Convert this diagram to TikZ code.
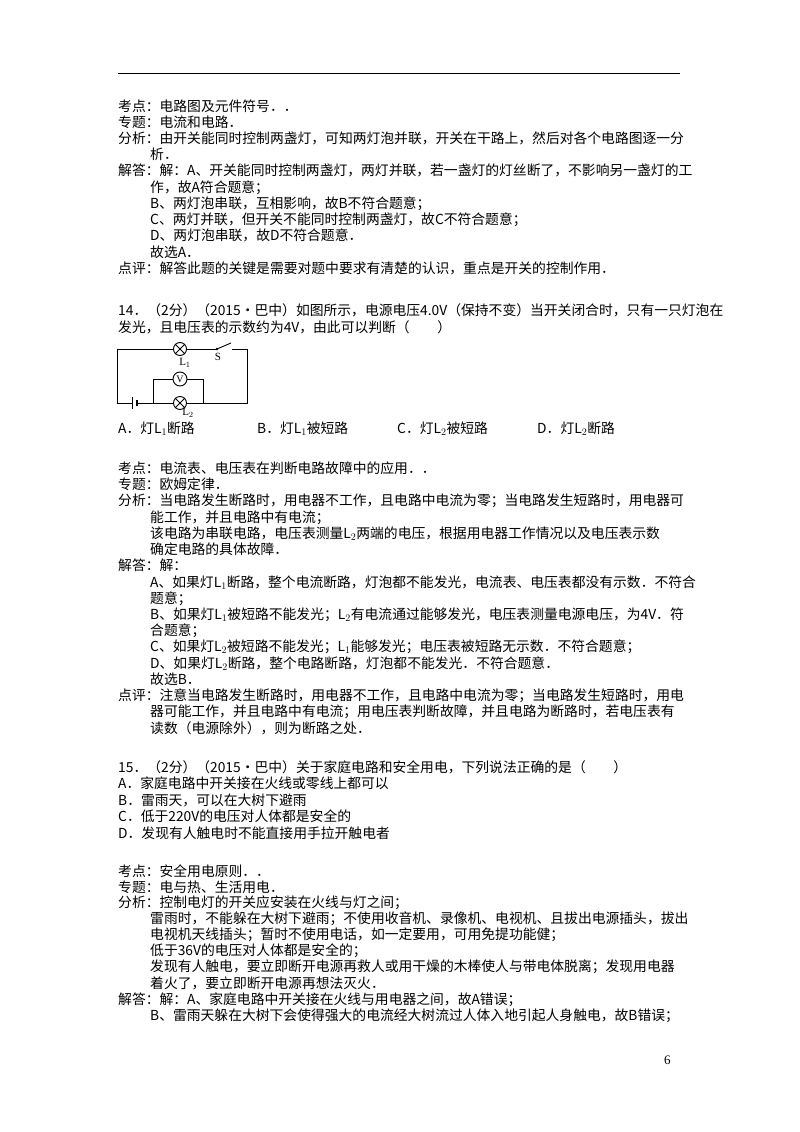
\documentclass[tikz,border=0pt]{standalone}
\usepackage{fontspec}
\setmainfont{Liberation Serif}
\newfontfamily\cjk{Noto Sans CJK SC}
\newcount\tlnum
\newcommand{\tl}[3]{\global\advance\tlnum by 1 \node[txt] (t\the\tlnum) at (#1,#2) {#3};}
\begin{document}
\begin{tikzpicture}[x=1pt,y=-1pt,
  txt/.style={anchor=base west,inner sep=0pt,font=\cjk\fontsize{13.8}{15}\selectfont},
  wire/.style={line width=0.9pt},
  lamp/.style={circle,draw,line width=0.9pt,minimum size=13pt,inner sep=0pt,fill=white},
  meter/.style={circle,draw,line width=0.9pt,minimum size=14pt,inner sep=0pt,fill=white,font=\fontsize{10}{10}\selectfont},
  lab/.style={inner sep=0pt,font=\fontsize{11}{11}\selectfont}]
\useasboundingbox (0,0) rectangle (800,1132);
\draw[line width=0.8pt] (118,73) -- (680,73);
\tl{118}{111}{考点：电路图及元件符号．．}
\tl{118}{127}{专题：电流和电路．}
\tl{118}{143}{分析：由开关能同时控制两盏灯，可知两灯泡并联，开关在干路上，然后对各个电路图逐一分}
\tl{150}{159}{析．}
\tl{118}{175}{解答：解：A、开关能同时控制两盏灯，两灯并联，若一盏灯的灯丝断了，不影响另一盏灯的工}
\tl{150}{192}{作，故A符合题意；}
\tl{150}{208}{B、两灯泡串联，互相影响，故B不符合题意；}
\tl{150}{224}{C、两灯并联，但开关不能同时控制两盏灯，故C不符合题意；}
\tl{150}{240}{D、两灯泡串联，故D不符合题意．}
\tl{150}{257}{故选A．}
\tl{118}{273}{点评：解答此题的关键是需要对题中要求有清楚的认识，重点是开关的控制作用．}
\tl{118}{315}{14．（2分）（2015•巴中）如图所示，电源电压4.0V（保持不变）当开关闭合时，只有一只灯泡在}
\tl{118}{332}{发光，且电压表的示数约为4V，由此可以判断（　　）}
% circuit
\node[lamp] (L1) at (180,349) {};
\node[lamp] (L2) at (180,403) {};
\node[meter] (V) at (180,379) {V};
\coordinate (tl) at (117,349); \coordinate (tr) at (247,349);
\coordinate (bl) at (117,403); \coordinate (br) at (247,403);
\coordinate (s1) at (217,349); \coordinate (s2) at (231,343); \coordinate (s3) at (232,349);
\coordinate (bA) at (132,403); \coordinate (bB) at (137,403);
\coordinate (j1) at (153,403); \coordinate (j2) at (203,403);
\coordinate (v1) at (153,379); \coordinate (v2) at (203,379);
\draw[wire] (L1) -- (tl) -- (bl) -- (bA);
\draw[wire] (L1) -- (s1);
\fill (s1) circle (1.3pt);
\draw[wire] (s1) -- (s2);
\draw[wire] (s3) -- (tr) -- (br) -- (L2);
\draw[wire] (L2) -- (bB);
\draw[line width=1pt] (132,397) -- (132,409);
\draw[line width=1.8pt] (137,400) -- (137,406);
\draw[wire] (j1) -- (v1) -- (V) -- (v2) -- (j2);
\foreach \n in {L1,L2}{\draw[line width=0.8pt] (\n.45) -- (\n.225) (\n.135) -- (\n.315);}
\node[lab] (ls) at (218,357) {S};
\node[lab] (l1) at (185,363) {L$_1$};
\node[lab] (l2) at (188,413) {L$_2$};
\tl{118}{433}{A．灯L$_1$断路}
\tl{257}{433}{B．灯L$_1$被短路}
\tl{397}{433}{C．灯L$_2$被短路}
\tl{537}{433}{D．灯L$_2$断路}
\tl{118}{473}{考点：电流表、电压表在判断电路故障中的应用．．}
\tl{118}{489}{专题：欧姆定律．}
\tl{118}{505}{分析：当电路发生断路时，用电器不工作，且电路中电流为零；当电路发生短路时，用电器可}
\tl{150}{522}{能工作，并且电路中有电流；}
\tl{150}{538}{该电路为串联电路，电压表测量L$_2$两端的电压，根据用电器工作情况以及电压表示数}
\tl{150}{554}{确定电路的具体故障．}
\tl{118}{570}{解答：解：}
\tl{150}{587}{A、如果灯L$_1$断路，整个电流断路，灯泡都不能发光，电流表、电压表都没有示数．不符合}
\tl{150}{603}{题意；}
\tl{150}{619}{B、如果灯L$_1$被短路不能发光；L$_2$有电流通过能够发光，电压表测量电源电压，为4V．符}
\tl{150}{635}{合题意；}
\tl{150}{651}{C、如果灯L$_2$被短路不能发光；L$_1$能够发光；电压表被短路无示数．不符合题意；}
\tl{150}{668}{D、如果灯L$_2$断路，整个电路断路，灯泡都不能发光．不符合题意．}
\tl{150}{684}{故选B．}
\tl{118}{700}{点评：注意当电路发生断路时，用电器不工作，且电路中电流为零；当电路发生短路时，用电}
\tl{150}{716}{器可能工作，并且电路中有电流；用电压表判断故障，并且电路为断路时，若电压表有}
\tl{150}{733}{读数（电源除外），则为断路之处．}
\tl{118}{772}{15．（2分）（2015•巴中）关于家庭电路和安全用电，下列说法正确的是（　　）}
\tl{118}{788}{A．家庭电路中开关接在火线或零线上都可以}
\tl{118}{805}{B．雷雨天，可以在大树下避雨}
\tl{118}{821}{C．低于220V的电压对人体都是安全的}
\tl{118}{838}{D．发现有人触电时不能直接用手拉开触电者}
\tl{118}{876}{考点：安全用电原则．．}
\tl{118}{892}{专题：电与热、生活用电．}
\tl{118}{907}{分析：控制电灯的开关应安装在火线与灯之间；}
\tl{150}{923}{雷雨时，不能躲在大树下避雨；不使用收音机、录像机、电视机、且拔出电源插头，拔出}
\tl{150}{939}{电视机天线插头；暂时不使用电话，如一定要用，可用免提功能健；}
\tl{150}{955}{低于36V的电压对人体都是安全的；}
\tl{150}{971}{发现有人触电，要立即断开电源再救人或用干燥的木棒使人与带电体脱离；发现用电器}
\tl{150}{988}{着火了，要立即断开电源再想法灭火．}
\tl{118}{1004}{解答：解：A、家庭电路中开关接在火线与用电器之间，故A错误；}
\tl{150}{1020}{B、雷雨天躲在大树下会使得强大的电流经大树流过人体入地引起人身触电，故B错误；}
\node[anchor=base west,inner sep=0pt,font=\fontsize{13}{13}\selectfont] (pg) at (664,1064) {6};
\end{tikzpicture}
\end{document}
